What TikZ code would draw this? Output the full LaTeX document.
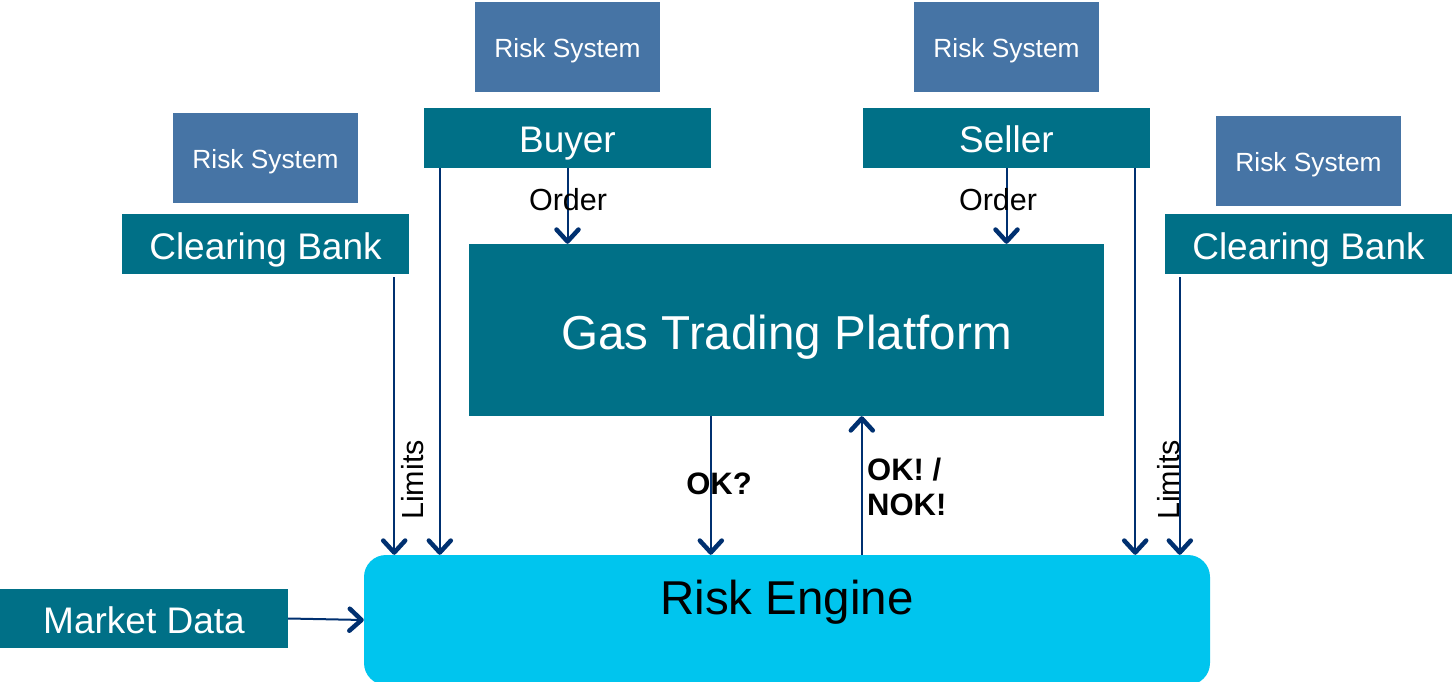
\documentclass[tikz,border=0pt]{standalone}
\usepackage{fontspec}
\setmainfont{Liberation Sans}
\usetikzlibrary{arrows.meta}
\definecolor{teal1}{RGB}{0,112,135}
\definecolor{rsblue}{RGB}{70,116,165}
\definecolor{recyan}{RGB}{0,197,238}
\definecolor{arrblue}{RGB}{0,48,112}
\begin{document}
\begin{tikzpicture}[x=1pt,y=-1pt,
  box/.style={fill=teal1,text=white,inner sep=0pt,text height=30pt,text depth=0pt,font=\fontsize{37}{40}\selectfont},
  rsbox/.style={fill=rsblue,text=white,inner sep=0pt,text height=21pt,text depth=0pt,minimum width=185pt,minimum height=90pt,font=\fontsize{26.3}{28}\selectfont},
  arr/.style={draw=arrblue,line width=2pt,-{Straight Barb[length=12pt,width=22pt,line width=4.5pt,round]}},
  lbl/.style={text=black,inner sep=0pt,font=\fontsize{30.5}{32}\selectfont},
  blbl/.style={text=black,inner sep=0pt,font=\fontsize{31}{35}\selectfont\bfseries,align=left}
]
\useasboundingbox (0,0) rectangle (1452,682);
% risk systems
\node[rsbox] (rs1) at (567.5,47.5) {Risk System};
\node[rsbox] (rs2) at (1006.5,47.5) {Risk System};
\node[rsbox] (rs3) at (265.5,158) {Risk System};
\node[rsbox] (rs4) at (1308.5,161) {Risk System};
% parties
\node[box,minimum width=287pt,minimum height=60pt] (buyer) at (567.5,138) {Buyer};
\node[box,minimum width=287pt,minimum height=60pt] (seller) at (1006.5,138) {Seller};
\node[box,minimum width=287pt,minimum height=60pt] (cbL) at (265.5,244) {Clearing Bank};
\node[box,minimum width=287pt,minimum height=60pt] (cbR) at (1308.5,244) {Clearing Bank};
\node[box,minimum width=288pt,minimum height=59pt] (md) at (144,618.5) {Market Data};
% platform
\node[box,minimum width=635pt,minimum height=172pt,text height=38pt,font=\fontsize{47.6}{50}\selectfont] (gtp) at (786.5,330) {Gas Trading Platform};
% risk engine
\node[fill=recyan,rounded corners=22pt,minimum width=846pt,minimum height=130pt,inner sep=0pt,
  label={[font=\fontsize{47.5}{50}\selectfont,text=black,yshift=18pt]center:Risk Engine}] (re) at (787,620) {};
% connectors
\draw[arr] ([xshift=-15pt,yshift=-3pt]cbL.south east) -- ([xshift=-15pt]cbL.south east |- re.north);
\draw[arr] ([xshift=16pt]buyer.south west) -- ([xshift=16pt]buyer.south west |- re.north);
\draw[arr] (buyer.south) -- (buyer.south |- gtp.north);
\draw[arr] (seller.south) -- (seller.south |- gtp.north);
\draw[arr] ([xshift=242pt]gtp.south west) -- ([xshift=242pt]gtp.south west |- re.north);
\draw[arr] ([xshift=393pt]gtp.south west |- re.north) -- ([xshift=393pt]gtp.south west);
\draw[arr] ([xshift=-15pt]seller.south east) -- ([xshift=-15pt]seller.south east |- re.north);
\draw[arr] ([xshift=15pt,yshift=-3pt]cbR.south west) -- ([xshift=15pt]cbR.south west |- re.north);
\draw[arr] (md.east) -- (re.west);
% labels
\node[lbl] (o1) at (568,200) {Order};
\node[lbl] (o2) at (998,200) {Order};
\node[lbl,rotate=90] (l1) at (413,480) {Limits};
\node[lbl,rotate=90] (l2) at (1169,480) {Limits};
\node[blbl] (ok) at (719,484) {OK?};
\node[blbl,anchor=west] (nok) at (867,487) {OK! /\\NOK!};
\end{tikzpicture}
\end{document}
